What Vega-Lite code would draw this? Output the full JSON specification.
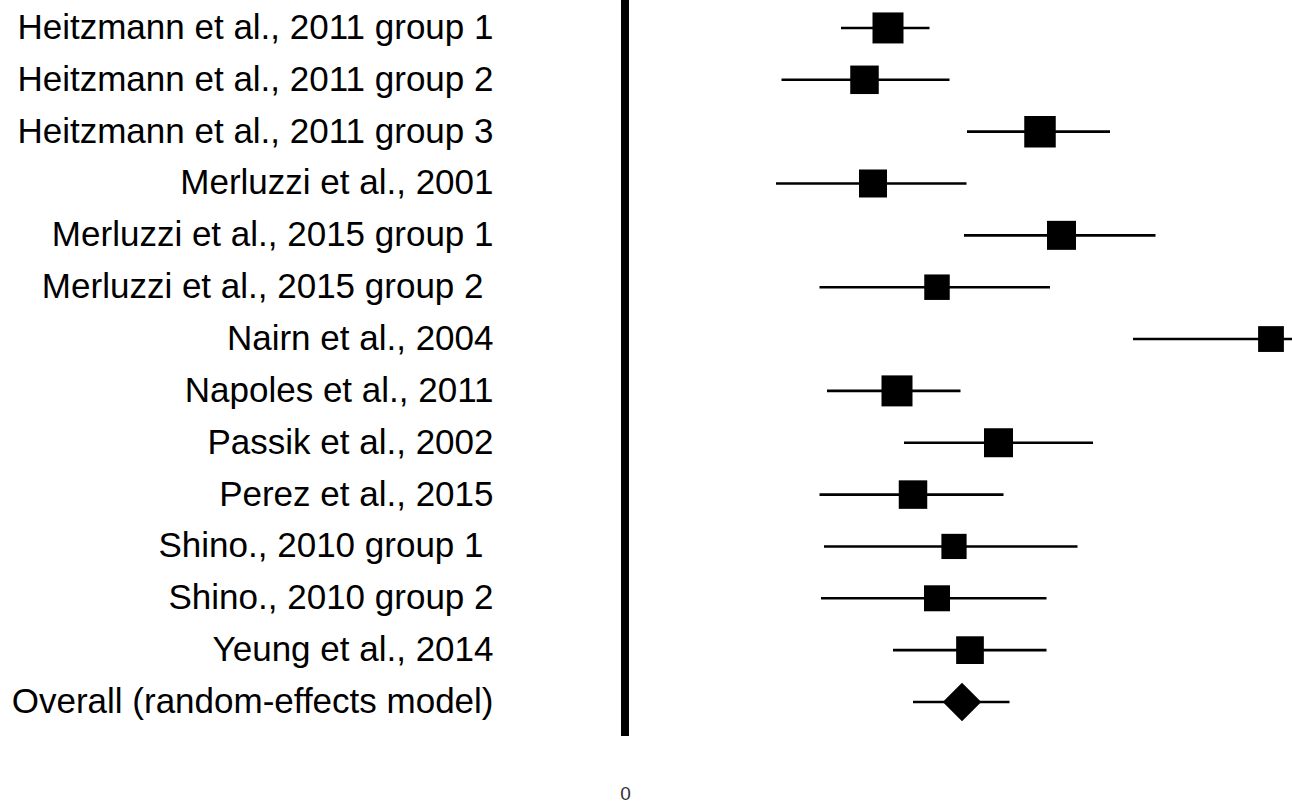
{
  "$schema": "https://vega.github.io/schema/vega-lite/v6.json",
  "autosize": {"type": "none"},
  "padding": {"left": 500, "top": 0, "right": 0, "bottom": 69},
  "width": 792,
  "height": 736,
  "background": "white",
  "config": {"view": {"stroke": null}, "font": "Liberation Sans"},
  "data": {
    "values": [
      {"study": "Heitzmann et al., 2011 group 1", "kind": "study", "estimate": 0.526, "lower": 0.432, "upper": 0.609, "weight": 9.24},
      {"study": "Heitzmann et al., 2011 group 2", "kind": "study", "estimate": 0.479, "lower": 0.313, "upper": 0.649, "weight": 7.81},
      {"study": "Heitzmann et al., 2011 group 3", "kind": "study", "estimate": 0.830, "lower": 0.684, "upper": 0.970, "weight": 9.54},
      {"study": "Merluzzi et al., 2001", "kind": "study", "estimate": 0.496, "lower": 0.302, "upper": 0.683, "weight": 7.54},
      {"study": "Merluzzi et al., 2015 group 1", "kind": "study", "estimate": 0.873, "lower": 0.678, "upper": 1.061, "weight": 8.09},
      {"study": "Merluzzi et al., 2015 group 2", "kind": "study", "estimate": 0.624, "lower": 0.389, "upper": 0.850, "weight": 6.25},
      {"study": "Nairn et al., 2004", "kind": "study", "estimate": 1.292, "lower": 1.016, "upper": 1.568, "weight": 6.40},
      {"study": "Napoles et al., 2011", "kind": "study", "estimate": 0.544, "lower": 0.404, "upper": 0.671, "weight": 9.24},
      {"study": "Passik et al., 2002", "kind": "study", "estimate": 0.747, "lower": 0.558, "upper": 0.936, "weight": 8.09},
      {"study": "Perez et al., 2015", "kind": "study", "estimate": 0.576, "lower": 0.389, "upper": 0.757, "weight": 7.81},
      {"study": "Shino., 2010 group 1", "kind": "study", "estimate": 0.658, "lower": 0.398, "upper": 0.905, "weight": 6.11},
      {"study": "Shino., 2010 group 2", "kind": "study", "estimate": 0.624, "lower": 0.392, "upper": 0.843, "weight": 6.50},
      {"study": "Yeung et al., 2014", "kind": "study", "estimate": 0.690, "lower": 0.536, "upper": 0.843, "weight": 7.38},
      {"study": "Overall (random-effects model)", "kind": "overall", "estimate": 0.674, "lower": 0.576, "upper": 0.769}
    ]
  },
  "layer": [
    {
      "mark": {"type": "rule", "strokeWidth": 2.6, "color": "black", "clip": true},
      "encoding": {
        "y": {
          "field": "study", "type": "nominal", "sort": null,
          "scale": {"paddingInner": 0, "paddingOuter": 0.0975, "align": 0.2},
          "axis": {
            "title": null, "domain": false, "ticks": false, "tickSize": 0, "grid": false,
            "labelPadding": {"condition": {"test": "datum.value === 'Merluzzi et al., 2015 group 2' || datum.value === 'Shino., 2010 group 1'", "value": 17}, "value": 7},
            "labelFontSize": 35, "labelColor": "black", "labelLimit": 0, "labelFont": "Liberation Sans"
          }
        },
        "x": {
          "field": "lower", "type": "quantitative",
          "scale": {"domain": [-0.25, 1.334], "nice": false, "zero": false},
          "axis": {"title": null, "values": [0], "format": "d", "domain": false, "ticks": false, "tickSize": 0, "grid": false, "labelFontSize": 19, "labelPadding": 48, "labelColor": "#333333", "labelFont": "Liberation Sans"}
        },
        "x2": {"field": "upper"}
      }
    },
    {
      "transform": [{"filter": "datum.kind === 'study'"}],
      "mark": {"type": "point", "shape": "square", "filled": true, "color": "black", "opacity": 1},
      "encoding": {
        "y": {"field": "study", "type": "nominal", "sort": null},
        "x": {"field": "estimate", "type": "quantitative"},
        "size": {"field": "weight", "type": "quantitative", "scale": {"domain": [0, 10], "range": [0, 1040]}, "legend": null}
      }
    },
    {
      "transform": [{"filter": "datum.kind === 'overall'"}],
      "mark": {"type": "point", "shape": "diamond", "filled": true, "color": "black", "opacity": 1, "size": 1480},
      "encoding": {
        "y": {"field": "study", "type": "nominal", "sort": null},
        "x": {"field": "estimate", "type": "quantitative"}
      }
    },
    {
      "mark": {"type": "rule", "strokeWidth": 7, "color": "black"},
      "encoding": {"x": {"datum": 0}}
    }
  ]
}
